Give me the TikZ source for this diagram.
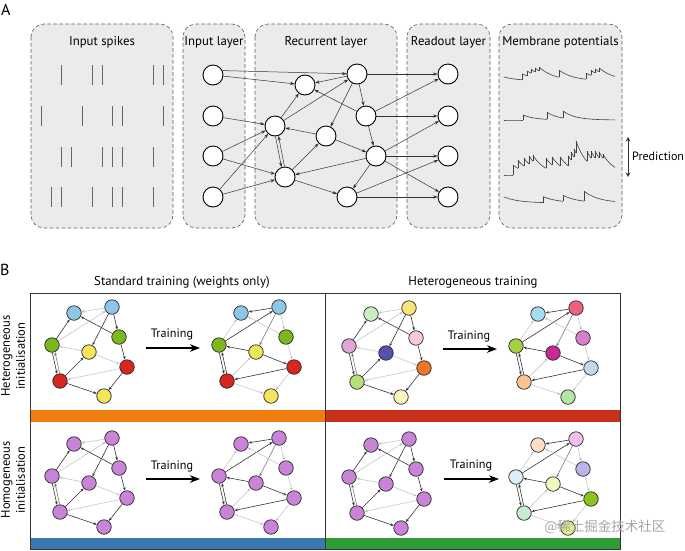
\documentclass[tikz,border=0pt]{standalone}
\usepackage{fontspec}
\setmainfont{PT Sans}
\newfontfamily\cjkfont{Noto Sans CJK SC}
\usetikzlibrary{arrows.meta}
\pgfdeclarelayer{back}
\pgfdeclarelayer{edges}
\pgfsetlayers{back,edges,main}

\definecolor{boxgray}{HTML}{EBEBEB}
\definecolor{orangebar}{HTML}{EE7D0C}
\definecolor{redbar}{HTML}{C9301C}
\definecolor{bluebar}{HTML}{3A78B2}
\definecolor{greenbar}{HTML}{2E9C35}
% colour sets
\definecolor{stda}{HTML}{8CC8E6}\definecolor{stdb}{HTML}{8CC8E6}
\definecolor{stdc}{HTML}{7CB71E}\definecolor{stdd}{HTML}{7CB71E}
\definecolor{stde}{HTML}{F4E55C}\definecolor{stdf}{HTML}{D6261D}
\definecolor{stdg}{HTML}{D6261D}\definecolor{stdh}{HTML}{F4E55C}
\definecolor{hetia}{HTML}{CBEEC0}\definecolor{hetib}{HTML}{F6E67A}
\definecolor{hetic}{HTML}{F8C8E0}\definecolor{hetid}{HTML}{DDA6D4}
\definecolor{hetie}{HTML}{5552AF}\definecolor{hetif}{HTML}{EF7727}
\definecolor{hetig}{HTML}{B6DF78}\definecolor{hetih}{HTML}{F9F7BD}
\definecolor{hetta}{HTML}{A9DCF0}\definecolor{hettb}{HTML}{F1617F}
\definecolor{hettc}{HTML}{D87ECA}\definecolor{hettd}{HTML}{A4D046}
\definecolor{hette}{HTML}{C72B8F}\definecolor{hettf}{HTML}{BCD9F2}
\definecolor{hettg}{HTML}{F9C58F}\definecolor{hetth}{HTML}{B4E7A7}
\definecolor{vioa}{HTML}{C984D8}\definecolor{viob}{HTML}{C984D8}
\definecolor{vioc}{HTML}{C984D8}\definecolor{viod}{HTML}{C984D8}
\definecolor{vioe}{HTML}{C984D8}\definecolor{viof}{HTML}{C984D8}
\definecolor{viog}{HTML}{C984D8}\definecolor{vioh}{HTML}{C984D8}
\definecolor{homta}{HTML}{FCDDC6}\definecolor{homtb}{HTML}{F0C1EA}
\definecolor{homtc}{HTML}{BBB4E9}\definecolor{homtd}{HTML}{DAEFF7}
\definecolor{homte}{HTML}{EFF9BF}\definecolor{homtf}{HTML}{8AC41C}
\definecolor{homtg}{HTML}{C4EDD4}\definecolor{homth}{HTML}{DEEE85}

\tikzset{
  layerbox/.style={draw=black!65, line width=0.6pt, dash pattern=on 3.5pt off 2.5pt, fill=boxgray, rounded corners=13pt},
  neuron/.style={circle, draw=black, fill=white, line width=0.9pt, minimum size=20pt, inner sep=0pt},
  syn/.style={draw=black!80, line width=0.5pt, -{Stealth[length=4.5pt,width=3.2pt]}},
  spike/.style={draw=black!60, line width=0.8pt},
  trace/.style={draw=black!75, line width=0.6pt, line join=round},
  ttl/.style={font=\fontsize{12.8}{14}\selectfont, inner sep=0pt, anchor=base},
  bn/.style={circle, draw=black!85, line width=0.7pt, minimum size=14.5pt, inner sep=0pt},
  wd/.style={draw=black!80, line width=0.6pt, -{Stealth[length=3.5pt,width=2.6pt]}},
  wm/.style={draw=black!55, line width=0.55pt, -{Stealth[length=3.5pt,width=2.6pt]}},
  wl/.style={draw=black!25, line width=0.5pt, -{Stealth[length=3.5pt,width=2.6pt]}},
  trainarrow/.style={draw=black, line width=1.1pt, -{Stealth[length=10pt,width=7.5pt,inset=3pt]}},
  % initial weights
  wiba/.style=wl, wida/.style=wd, widb/.style=wl, wibc/.style=wd, wibe/.style=wd,
  wica/.style=wd, wicf/.style=wd, wied/.style=wl, wief/.style=wl, wige/.style=wd,
  wifg/.style=wl, wigh/.style=wd, wifh/.style=wd, widg/.style=wd, wigd/.style=wm,
  % trained weights
  wtba/.style=wd, wtda/.style=wl, wtdb/.style=wd, wtbc/.style=wl, wtbe/.style=wm,
  wtca/.style=wl, wtcf/.style=wl, wted/.style=wd, wtef/.style=wd, wtge/.style=wl,
  wtfg/.style=wd, wtgh/.style=wl, wtfh/.style=wl, wtdg/.style=wd, wtgd/.style=wd,
}

% membrane potential trace: #1 baseline y, #2 x start, #3 x end, #4 tau, #5 v0, #6 spikes t/h
\newcommand\mptrace[6]{%
  \xdef\mpT{#2}\xdef\mpV{#5}%
  \foreach \t/\h in {#6}{%
    \draw[trace, domain=\mpT:\t, samples=8] plot (\x,{#1-\mpV*exp(-(\x-\mpT)/#4)});
    \pgfmathsetmacro\mpE{\mpV*exp(-(\t-\mpT)/#4)}%
    \pgfmathsetmacro\mpN{\mpE+\h}%
    \draw[trace] (\t,#1-\mpE) -- (\t,#1-\mpN);
    \xdef\mpT{\t}\xdef\mpV{\mpN}%
  }%
  \draw[trace, domain=\mpT:#3, samples=14] plot (\x,{#1-\mpV*exp(-(\x-\mpT)/#4)});
}

% small network of panel B: #1 prefix, #2 x shift, #3 y shift, #4 colour set, #5 weights (i/t)
\newcommand\bnet[5]{%
\begin{scope}[shift={(#2,#3)}]
  \node[bn, fill=#4a] (#1a) at (74,313) {};
  \node[bn, fill=#4b] (#1b) at (112,307) {};
  \node[bn, fill=#4c] (#1c) at (119,337) {};
  \node[bn, fill=#4d] (#1d) at (52,345) {};
  \node[bn, fill=#4e] (#1e) at (89,352) {};
  \node[bn, fill=#4f] (#1f) at (127,367) {};
  \node[bn, fill=#4g] (#1g) at (60,381) {};
  \node[bn, fill=#4h] (#1h) at (104,396) {};
  \begin{pgfonlayer}{edges}
  \draw[w#5ba] (#1b) -- (#1a);
  \draw[w#5da] (#1d) -- (#1a);
  \draw[w#5db] (#1d) -- (#1b);
  \draw[w#5bc] (#1b) -- (#1c);
  \draw[w#5be] (#1b) -- (#1e);
  \draw[w#5ca] (#1c) -- (#1a);
  \draw[w#5cf] (#1c) -- (#1f);
  \draw[w#5ed] (#1e) -- (#1d);
  \draw[w#5ef] (#1e) -- (#1f);
  \draw[w#5ge] (#1g) -- (#1e);
  \draw[w#5fg] (#1f) -- (#1g);
  \draw[w#5gh] (#1g) -- (#1h);
  \draw[w#5fh] (#1f) -- (#1h);
  \draw[w#5dg, transform canvas={shift={(-1.3pt,-0.3pt)}}] (#1d) -- (#1g);
  \draw[w#5gd, transform canvas={shift={(1.3pt,0.3pt)}}] (#1g) -- (#1d);
  \end{pgfonlayer}
\end{scope}}

\begin{document}
\begin{tikzpicture}[x=1pt,y=-1pt]
\begin{pgfonlayer}{back}
  \fill[white] (0,0) rectangle (685,550);
\end{pgfonlayer}
\useasboundingbox (0,0) rectangle (685,550);

% ================= Panel A =================
\node[font=\fontsize{16}{16}\selectfont, inner sep=0pt, anchor=base west] (labA) at (1,15) {A};

\begin{pgfonlayer}{back}
  \draw[layerbox] (31,24) rectangle (173,228);
  \draw[layerbox] (183,24) rectangle (245,228);
  \draw[layerbox] (255,24) rectangle (397,228);
  \draw[layerbox] (407,24) rectangle (490,228);
  \draw[layerbox] (499,24) rectangle (622,228);
\end{pgfonlayer}

\node[ttl] (t1) at (102,45.5) {Input spikes};
\node[ttl] (t2) at (214,45.5) {Input layer};
\node[ttl] (t3) at (326,45.5) {Recurrent layer};
\node[ttl] (t4) at (448.5,45.5) {Readout layer};
\node[ttl] (t5) at (560.5,45.5) {Membrane potentials};

% spikes
\foreach \yy/\xs in {65/{61,92,102,153,163},106/{41,82,112,122,163},147/{61,71,102,112,122,153},187/{51,61,92,112,122,153}}{
  \foreach \xx in \xs {\draw[spike] (\xx,\yy) -- (\xx,\yy+20);}
}

% neurons
\node[neuron] (i1) at (213,75) {};
\node[neuron] (i2) at (213,116) {};
\node[neuron] (i3) at (213,156) {};
\node[neuron] (i4) at (213,197) {};
\node[neuron] (r1) at (357,74) {};
\node[neuron] (r2) at (305,85) {};
\node[neuron] (r3) at (366,116) {};
\node[neuron] (r4) at (275,126) {};
\node[neuron] (r5) at (326,136) {};
\node[neuron] (r6) at (376,156) {};
\node[neuron] (r7) at (285,177) {};
\node[neuron] (r8) at (347,197) {};
\node[neuron] (o1) at (448,74) {};
\node[neuron] (o2) at (448,116) {};
\node[neuron] (o3) at (448,156) {};
\node[neuron] (o4) at (448,197) {};

\begin{pgfonlayer}{edges}
  \draw[syn] (i1.25) -- (r1);
  \draw[syn] (i1) -- (r2);
  \draw[syn] (i2) -- (r4);
  \draw[syn] (i3) -- (r4);
  \draw[syn] (i3) -- (r7);
  \draw[syn] (i4) -- (r4);
  \draw[syn] (i4) -- (r7);
  \draw[syn] (r1) -- (r2);
  \draw[syn] (r4) -- (r2);
  \draw[syn] (r4) -- (r1);
  \draw[syn] (r3) -- (r2);
  \draw[syn] (r1) -- (r3);
  \draw[syn] (r1) -- (r5);
  \draw[syn] (r5) -- (r4);
  \draw[syn] (r7) -- (r5);
  \draw[syn, transform canvas={shift={(-1.5pt,-0.3pt)}}] (r4) -- (r7);
  \draw[syn, transform canvas={shift={(1.5pt,0.3pt)}}] (r7) -- (r4);
  \draw[syn] (r6) -- (r7);
  \draw[syn] (r7) -- (r8);
  \draw[syn] (r5) -- (r6);
  \draw[syn] (r3) -- (r6);
  \draw[syn] (r6) -- (r8);
  \draw[syn] (r1) -- (o1);
  \draw[syn] (r3) -- (o1);
  \draw[syn, line width=0.9pt] (r3) -- (o2);
  \draw[syn] (r6) -- (o2);
  \draw[syn] (r6) -- (o3);
  \draw[syn] (r6) -- (o4);
  \draw[syn] (r8) -- (o3);
  \draw[syn] (r8) -- (o4);
\end{pgfonlayer}

% membrane potentials
\mptrace{81}{504}{615}{15}{4}{522/6,527/5,531/4,535/4,539/4,559/7,586/6,591/5,595/4,599/4}
\mptrace{120}{504}{615}{12}{0}{523/5,547/7,563/7}
\mptrace{175}{504}{615}{12}{0}{513/10,518/8,524/8,529/8,533/6,546/10,552/8,560/9,568/10,571/8,574/8,576/12,587/10,591/7,595/7,599/6,603/4}
\mptrace{203}{504}{615}{15}{6}{543/6,563/6,584/10}

\coordinate (pt) at (628,137);
\coordinate (pb) at (628,177);
\draw[black!80, line width=0.9pt, {Stealth[length=4.5pt,width=4.5pt]}-{Stealth[length=4.5pt,width=4.5pt]}] (pt) -- (pb);
\node[ttl, font=\fontsize{12}{13}\selectfont, anchor=base west] (pred) at (632,160) {Prediction};

% ================= Panel B =================
\node[font=\fontsize{16}{16}\selectfont, inner sep=0pt, anchor=base west] (labB) at (0,275) {B};
\node[ttl] (ct1) at (182,285) {Standard training (weights only)};
\node[ttl] (ct2) at (473,285) {Heterogeneous training};

\fill[orangebar] (30,410) rectangle (325,421.5);
\fill[redbar] (325,410) rectangle (620,421.5);
\fill[bluebar] (30,538) rectangle (325,549);
\fill[greenbar] (325,538) rectangle (620,549);
\draw[black!80, line width=0.8pt] (30,293) rectangle (620,549);
\draw[black!80, line width=0.8pt] (325,293) -- (325,549);

\node[font=\fontsize{12.5}{15}\selectfont, align=center, rotate=90, inner sep=0pt] (rl1) at (13,356) {Heterogeneous\\initialisation};
\node[font=\fontsize{12.5}{15}\selectfont, align=center, rotate=90, inner sep=0pt] (rl2) at (13,480) {Homogeneous\\initialisation};

\bnet{p}{0}{0}{std}{i}
\bnet{q}{167}{0}{std}{t}
\bnet{s}{297}{1}{heti}{i}
\bnet{u}{464}{1}{hett}{t}
\bnet{k}{0}{131}{vio}{i}
\bnet{l}{167}{131}{vio}{t}
\bnet{m}{297}{132}{vio}{i}
\bnet{n}{464}{132}{homt}{t}

% training arrows
\coordinate (a1s) at (146,348); \coordinate (a1e) at (200,348);
\coordinate (a2s) at (443,349); \coordinate (a2e) at (497,349);
\coordinate (a3s) at (146,479); \coordinate (a3e) at (200,479);
\coordinate (a4s) at (444,479); \coordinate (a4e) at (499,479);
\draw[trainarrow] (a1s) -- (a1e);
\draw[trainarrow] (a2s) -- (a2e);
\draw[trainarrow] (a3s) -- (a3e);
\draw[trainarrow] (a4s) -- (a4e);
\node[ttl, font=\fontsize{12.2}{13}\selectfont] (tr1) at (172,337.5) {Training};
\node[ttl, font=\fontsize{12.2}{13}\selectfont] (tr2) at (469,339) {Training};
\node[ttl, font=\fontsize{12.2}{13}\selectfont] (tr3) at (172,469) {Training};
\node[ttl, font=\fontsize{12.2}{13}\selectfont] (tr4) at (471,468) {Training};

% watermark
\node[font=\cjkfont\fontsize{13.5}{14}\selectfont, text=black!35, inner sep=0pt] (wmk) at (605,527) {@稀土掘金技术社区};
\end{tikzpicture}
\end{document}
